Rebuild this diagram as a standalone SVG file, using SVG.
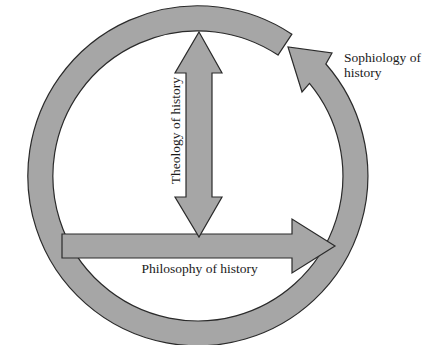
<svg xmlns="http://www.w3.org/2000/svg" width="424" height="345" viewBox="0 0 424 345">
<style>
.shape{fill:#a6a6a6;stroke:#2a2a2a;stroke-width:1.2;stroke-linejoin:miter}
.lbl{font-family:"Liberation Serif","Times New Roman",serif;font-size:13.5px;fill:#1a1a1a}
</style>
<rect width="424" height="345" fill="#ffffff"/>
<g id="connectors">
<g id="sophiology-ring">
<path class="shape" d="M 291.9 34.2 A 170 170 0 1 0 325.9 64.0 L 332 53 L 288 47 L 302 92 L 309.5 83.4 A 145 145 0 1 1 278.0 55.1 Z"/>
</g>
<g id="philosophy-arrow">
<path class="shape" d="M 62 234 L 292 234 L 292 219 L 335 246 L 292 273 L 292 258 L 62 258 Z"/>
</g>
<g id="theology-arrow">
<path class="shape" d="M 199 32 L 222 73 L 212 73 L 212 197 L 222 197 L 199 237 L 175 197 L 186 197 L 186 73 L 175 73 Z"/>
</g>
</g>
<g id="label-theology">
<text class="lbl" transform="translate(179.5,130.5) rotate(-90)" text-anchor="middle" font-size="13.2">Theology of history</text>
</g>
<g id="label-philosophy">
<text class="lbl" x="199.7" y="273.3" text-anchor="middle">Philosophy of history</text>
</g>
<g id="label-sophiology">
<text class="lbl" x="344" y="62" font-size="12.8">Sophiology of</text>
<text class="lbl" x="344" y="76.5" font-size="12.8">history</text>
</g>
</svg>
